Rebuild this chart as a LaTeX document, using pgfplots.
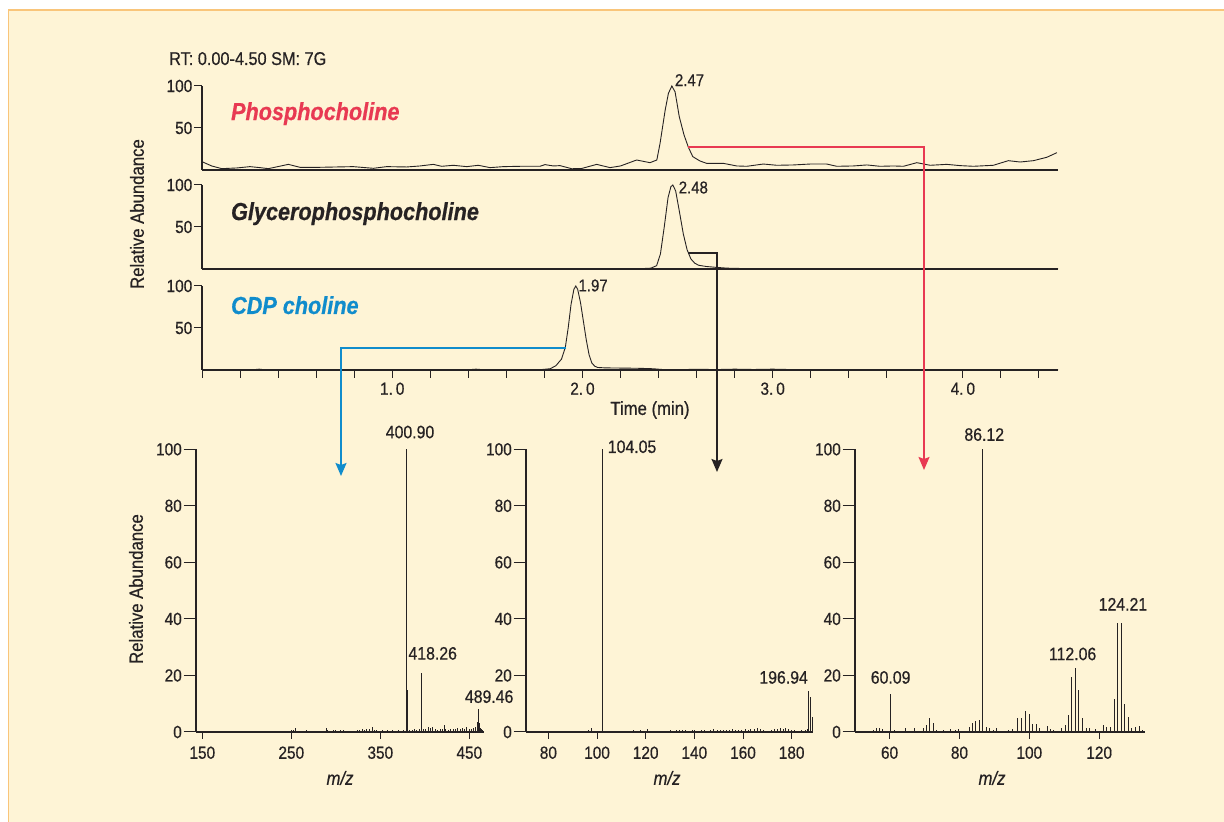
\documentclass[border=0pt]{standalone}
\usepackage{pgfplots}
\pgfplotsset{compat=1.18}
\usepackage{fontspec}
\setmainfont{Liberation Sans}[FakeStretch=0.88, FakeBold=0.6]
\usetikzlibrary{arrows.meta}

\definecolor{bg}{RGB}{254,244,214}
\definecolor{frame}{RGB}{249,197,122}
\definecolor{ink}{RGB}{38,34,35}
\definecolor{pred}{RGB}{232,57,82}
\definecolor{pblue}{RGB}{16,140,204}

\pgfplotsset{
  chrom/.style={scale only axis, width=856pt, height=84pt,
    xmin=0, xmax=4.5, ymin=0, ymax=100,
    axis x line*=bottom, axis y line*=left, clip=false, anchor=south west,
    ytick={50,100}, tick align=outside, major tick length=8pt, minor tick length=8pt,
    axis line style={line width=1.3pt, ink}, tick style={line width=1pt, ink},
    ticklabel style={font=\fontsize{17.5}{20}\selectfont, text=ink},
    yticklabel style={inner xsep=1.5pt},
    xticklabel style={yshift=-1pt},
    /pgf/number format/assume math mode=true},
  specx/.style={scale only axis, height=282.7pt, ymin=0, ymax=100,
    axis x line*=bottom, axis y line=none, ytick=\empty, clip=false, anchor=south west,
    tick align=outside, major tick length=7pt,
    axis line style={line width=1.4pt, ink}, tick style={line width=1pt, ink},
    ticklabel style={font=\fontsize{17.5}{20}\selectfont, text=ink},
    xticklabel style={yshift=-4pt},
    /pgf/number format/assume math mode=true},
  specy/.style={scale only axis, height=282.7pt, ymin=0, ymax=100,
    axis y line*=left, axis x line=none, xtick=\empty, anchor=south west,
    ytick={0,20,40,60,80,100}, tick align=outside, major tick length=12.5pt,
    axis line style={line width=1.4pt, ink}, tick style={line width=1pt, ink},
    ticklabel style={font=\fontsize{17.5}{20}\selectfont, text=ink},
    yticklabel style={inner xsep=1.5pt},
    /pgf/number format/assume math mode=true},
  stick/.style={ycomb, ink, line width=0.9pt, mark=none},
  trace/.style={ink, line width=0.9pt, mark=none},
}

\begin{document}
\begin{tikzpicture}
\useasboundingbox (0pt,0pt) rectangle (1224pt,822pt);
\fill[white] (0pt,0pt) rectangle (1224pt,822pt);
\fill[bg] (8.5pt,0pt) rectangle (1224pt,812pt);
\draw[frame, line width=1.2pt] (8.5pt,0pt) -- (8.5pt,812pt) -- (1224pt,812pt);

\node[anchor=base west, inner sep=0pt, font=\fontsize{18.5}{20}\selectfont, text=ink] at (169pt,757pt) {RT: 0.00-4.50 SM: 7G};
\node[rotate=90, font=\fontsize{19}{22}\selectfont, text=ink] at (137pt,608pt) {Relative Abundance};
\node[rotate=90, font=\fontsize{19}{22}\selectfont, text=ink] at (136pt,233pt) {Relative Abundance};
\node[font=\fontsize{19}{22}\selectfont, text=ink] at (650pt,412pt) {Time (min)};
\node[font=\fontsize{19}{22}\selectfont\itshape, text=ink] at (340pt,44pt) {m/z};
\node[font=\fontsize{19}{22}\selectfont\itshape, text=ink] at (667pt,44pt) {m/z};
\node[font=\fontsize{19}{22}\selectfont\itshape, text=ink] at (992pt,44pt) {m/z};

% ---------- Phosphocholine chromatogram ----------
\begin{axis}[chrom, at={(202pt,652pt)}, xtick=\empty]
\addplot[trace] coordinates {
(0,9.9) (0.051,4.8) (0.104,1.6) (0.182,2.4) (0.252,4) (0.305,2.8) (0.349,1.6) (0.454,6.7) (0.515,3.2) (0.620,3.2)
(0.795,4) (0.901,2) (0.971,4) (1.076,3.6) (1.146,4.8) (1.216,6.7) (1.260,4.4) (1.321,5.6) (1.392,4) (1.453,5.6)
(1.514,2.8) (1.584,4) (1.672,4.4) (1.777,4.4) (1.803,6.4) (1.847,4.8) (1.882,5.2) (1.944,1.5) (1.996,1.8) (2.075,6.7)
(2.145,2.8) (2.20,4.8) (2.285,11.9) (2.355,8.7) (2.391,11.9) (2.408,31.7) (2.435,71.4) (2.452,91.3) (2.47,100) (2.487,93)
(2.509,63.5) (2.534,41.7) (2.557,27) (2.580,15.9) (2.618,10.7) (2.653,7.9) (2.741,7.9) (2.811,4.8) (2.864,4.4) (2.951,7.1)
(3.022,5.6) (3.109,6) (3.197,7.1) (3.284,7.1) (3.337,4.4) (3.424,4.8) (3.495,6) (3.565,4.4) (3.635,4.8) (3.687,4.4)
(3.758,8.7) (3.828,5.6) (3.915,6.7) (3.986,5.2) (4.055,4.4) (4.160,5.6) (4.239,11.1) (4.301,9.5) (4.371,11.1) (4.441,15.1) (4.494,20.6)};
\node[anchor=base west, inner sep=0pt, font=\fontsize{24.6}{28}\selectfont\bfseries\itshape, text=pred] at (axis cs:0.152,59.5) {Phosphocholine};
\node[font=\fontsize{17}{20}\selectfont, text=ink] at (axis cs:2.563,107) {2.47};
\end{axis}

% ---------- Glycerophosphocholine chromatogram ----------
\begin{axis}[chrom, at={(202pt,553pt)}, xtick=\empty]
\addplot[trace] coordinates {
(0,0.3) (2.30,0.3) (2.36,1) (2.39,4) (2.41,18) (2.43,50) (2.45,85) (2.465,98) (2.475,100) (2.49,93)
(2.51,68) (2.53,42) (2.55,23) (2.57,12) (2.59,7) (2.61,4.5) (2.65,3) (2.70,2) (2.76,1) (2.85,0.5) (2.95,0.3) (4.5,0.3)};
\node[anchor=base west, inner sep=0pt, font=\fontsize{24.6}{28}\selectfont\bfseries\itshape, text=ink] at (axis cs:0.152,58.3) {Glycerophosphocholine};
\node[font=\fontsize{17}{20}\selectfont, text=ink] at (axis cs:2.583,97) {2.48};
\end{axis}

% ---------- CDP choline chromatogram ----------
\begin{axis}[chrom, at={(202pt,452pt)},
  xtick={1,2,3,4}, xticklabels={1.\,0,2.\,0,3.\,0,4.\,0},
  minor xtick={0,0.2,0.4,0.6,0.8,1.2,1.4,1.6,1.8,2.2,2.4,2.6,2.8,3.2,3.4,3.6,3.8,4.2,4.4}]
\addplot[trace] coordinates {
(0,0.3) (0.27,0.3) (0.30,1.0) (0.33,0.3) (1.40,0.3) (1.44,1.0) (1.48,0.3) (1.78,0.4) (1.83,1.5) (1.86,5)
(1.89,13) (1.91,27) (1.925,50) (1.94,78) (1.955,96) (1.965,100) (1.975,96) (1.99,80) (2.005,58) (2.02,36)
(2.035,18) (2.05,8) (2.065,4.5) (2.08,3) (2.12,2.5) (2.2,2.3) (2.3,2) (2.37,1.5) (2.42,0.6) (2.5,0.3)
(2.6,0.9) (2.7,0.5) (2.8,1) (2.9,0.6) (3.0,1) (3.1,0.5) (3.18,0.3) (4.5,0.3)};
\node[anchor=base west, inner sep=0pt, font=\fontsize{24.6}{28}\selectfont\bfseries\itshape, text=pblue] at (axis cs:0.152,66.7) {CDP choline};
\node[font=\fontsize{17}{20}\selectfont, text=ink] at (axis cs:2.056,100.6) {1.97};
\end{axis}

% ---------- Spectrum A (CDP choline) ----------
\begin{axis}[specy, at={(196pt,90pt)}, width=288pt, xmin=142.9, xmax=466.5]
\end{axis}
\begin{axis}[specx, at={(196pt,90pt)}, width=288pt, xmin=142.9, xmax=466.5, xtick={150,250,350,450}]
\addplot[stick] coordinates {(378.9,100) (380.5,15) (395.8,20.8) (396.6,2.5) (459.5,3.5) (460.5,8) (461.2,3.2) (462.0,1.5)};
\addplot[stick, line width=0.7pt] coordinates {
(145.2,0.4) (147.8,0.3) (150.5,0.5) (153.1,0.3) (156.0,0.4) (158.7,0.3) (161.3,0.5) (164.0,0.3) (166.9,0.4) (169.5,0.3)
(175.2,0.3) (181.6,0.4) (184.4,0.5) (188.0,0.3) (196.5,0.3) (205.0,0.4) (212.3,0.5) (215.8,0.3) (224.0,0.4) (229.5,0.5)
(233.0,0.3) (240.3,0.4) (247.0,0.5) (249.5,0.6) (252.0,0.8) (254.6,1.5) (262.0,0.4) (266.5,0.6) (270.2,0.5) (273.8,0.4)
(278.0,0.3) (283.4,0.4) (288.9,1.5) (291.0,0.6) (294.5,0.5) (297.0,0.8) (299.8,0.6) (302.5,0.5) (305.0,0.7) (308.1,0.6)
(311.0,0.4) (314.3,0.5) (317.0,0.3) (320.5,0.5) (324.0,0.8) (326.6,0.7) (329.5,1.0) (332.0,0.8) (334.8,1.2) (337.5,0.9)
(340.7,1.8) (343.0,0.8) (346.0,0.6) (349.2,0.5) (352.5,0.7) (355.0,0.5) (358.3,0.6) (361.5,0.5) (364.0,0.7) (367.0,0.5)
(370.5,0.6) (373.0,0.5) (376.0,0.7) (383.0,0.6) (385.5,0.8) (388.0,1.0) (391.0,0.8) (393.5,1.2) (398.5,0.9) (401.0,1.0)
(404.0,1.8) (406.5,1.5) (409.0,1.6) (411.5,0.9) (414.0,0.7) (417.0,1.2) (419.5,1.0) (421.5,2.5) (423.0,1.2) (426.0,0.6)
(429.0,0.9) (432.0,1.2) (434.5,0.9) (437.0,1.4) (439.5,1.0) (442.0,1.5) (444.5,1.1) (447.0,1.6) (449.5,1.2) (452.0,1.0)
(454.5,1.4) (457.0,1.8) (463.0,1.2) (464.5,0.8)};
\node[font=\fontsize{18}{20}\selectfont, text=ink] at (axis cs:383.4,106.1) {400.90};
\node[font=\fontsize{18}{20}\selectfont, text=ink] at (axis cs:408.9,27.8) {418.26};
\node[font=\fontsize{18}{20}\selectfont, text=ink] at (axis cs:472.3,12.5) {489.46};
\end{axis}

% ---------- Spectrum B (Glycerophosphocholine) ----------
\begin{axis}[specy, at={(526pt,90pt)}, width=287.3pt, xmin=70.8, xmax=188.9]
\end{axis}
\begin{axis}[specx, at={(526pt,90pt)}, width=287.3pt, xmin=70.8, xmax=188.9, xtick={80,100,120,140,160,180}]
\addplot[stick] coordinates {(97.6,1.5) (102.2,100) (187.0,14.6) (187.8,12.3) (188.6,5.4)};
\addplot[stick, line width=0.7pt] coordinates {
(80.0,0.4) (81.5,0.3) (83.0,0.4) (84.6,0.3) (86.2,0.4) (87.7,0.3) (89.3,0.4) (91.5,0.3) (93.8,0.5) (95.2,0.4)
(96.3,0.6) (99.0,0.3) (104.5,0.4) (106.0,0.5) (107.6,0.4) (109.0,0.5) (110.5,0.4) (112.0,0.3) (113.5,0.5) (115.0,0.6)
(116.4,0.5) (117.8,0.7) (119.2,0.5) (120.6,0.9) (122.0,0.4) (124.5,0.5) (127.0,0.4) (128.5,0.5) (130.0,0.6) (131.3,0.5)
(132.5,0.8) (133.8,0.6) (135.0,0.7) (136.3,0.6) (137.6,0.5) (139.0,0.7) (140.2,0.6) (141.5,0.5) (142.8,0.8) (144.0,0.6)
(145.3,0.5) (146.6,0.7) (148.0,1.0) (149.3,0.6) (150.6,0.7) (151.8,0.8) (153.0,0.6) (154.3,0.7) (155.6,0.9) (156.9,0.7)
(158.2,0.6) (159.5,0.8) (160.8,1.0) (162.0,0.8) (163.2,1.1) (164.5,1.2) (165.8,1.4) (167.0,1.0) (168.3,0.8) (169.5,0.5)
(171.5,0.6) (172.8,0.9) (174.0,1.0) (175.2,1.3) (176.4,1.2) (177.6,1.4) (178.8,1.0) (180.0,0.8) (181.2,0.6) (182.5,0.5)
(184.0,0.6) (185.5,0.8) (186.3,1.2)};
\node[font=\fontsize{18}{20}\selectfont, text=ink] at (axis cs:114.4,100.9) {104.05};
\node[font=\fontsize{18}{20}\selectfont, text=ink] at (axis cs:176.7,19.3) {196.94};
\end{axis}

% ---------- Spectrum C (Phosphocholine) ----------
\begin{axis}[specy, at={(855pt,90pt)}, width=290.3pt, xmin=50.1, xmax=133.2]
\end{axis}
\begin{axis}[specx, at={(855pt,90pt)}, width=290.3pt, xmin=50.1, xmax=133.2, xtick={60,80,100,120}]
\addplot[stick] coordinates {(60.3,13.6) (86.6,100) (111.1,6.0) (112.1,19.5) (113.1,22.8) (114.2,15.0) (115.1,4.8)
(124.4,11.8) (125.3,38.5) (126.3,38.4) (127.3,9.9) (128.3,5.4)};
\addplot[stick, line width=0.8pt] coordinates {
(55.5,0.8) (56.1,1.5) (57.0,1.3) (58.0,1.0) (61.5,0.6) (64.4,1.3) (67.2,1.3) (69.6,1.3) (70.4,2.5) (71.5,5.0)
(72.5,3.3) (73.4,0.8) (75.5,0.6) (77.4,1.0) (78.7,0.6) (79.6,1.0) (82.8,1.6) (83.7,3.3) (84.6,3.8) (85.6,4.2)
(87.7,1.6) (88.5,1.3) (89.6,0.8) (90.6,1.5) (93.9,0.8) (95.2,1.0) (96.5,5.0) (97.7,4.8) (99.0,7.3) (99.9,6.4)
(100.9,2.9) (101.9,2.9) (102.8,1.3) (105.3,2.1) (106.1,1.0) (107.0,0.6) (109.2,1.3) (110.2,2.5) (116.2,1.3) (117.1,1.5)
(119.0,1.0) (121.1,2.4) (122.2,1.7) (123.3,1.8) (129.3,1.5) (130.3,1.8) (131.4,2.0) (132.4,0.8)};
\node[font=\fontsize{18}{20}\selectfont, text=ink] at (axis cs:87.1,105.2) {86.12};
\node[font=\fontsize{18}{20}\selectfont, text=ink] at (axis cs:60.3,19.3) {60.09};
\node[font=\fontsize{18}{20}\selectfont, text=ink] at (axis cs:112.4,27.6) {112.06};
\node[font=\fontsize{18}{20}\selectfont, text=ink] at (axis cs:126.8,45.2) {124.21};
\end{axis}

% ---------- connectors ----------
\draw[pred, line width=1.6pt, -{Stealth[length=13pt,width=11pt,inset=2pt]}] (688pt,675pt) -- (924pt,675pt) -- (924pt,352pt);
\draw[ink, line width=1.6pt, -{Stealth[length=13pt,width=11pt,inset=2pt]}] (688pt,569pt) -- (717pt,569pt) -- (717pt,350pt);
\draw[pblue, line width=1.6pt, -{Stealth[length=13pt,width=11pt,inset=2pt]}] (566pt,474pt) -- (341pt,474pt) -- (341pt,346pt);
\end{tikzpicture}
\end{document}
